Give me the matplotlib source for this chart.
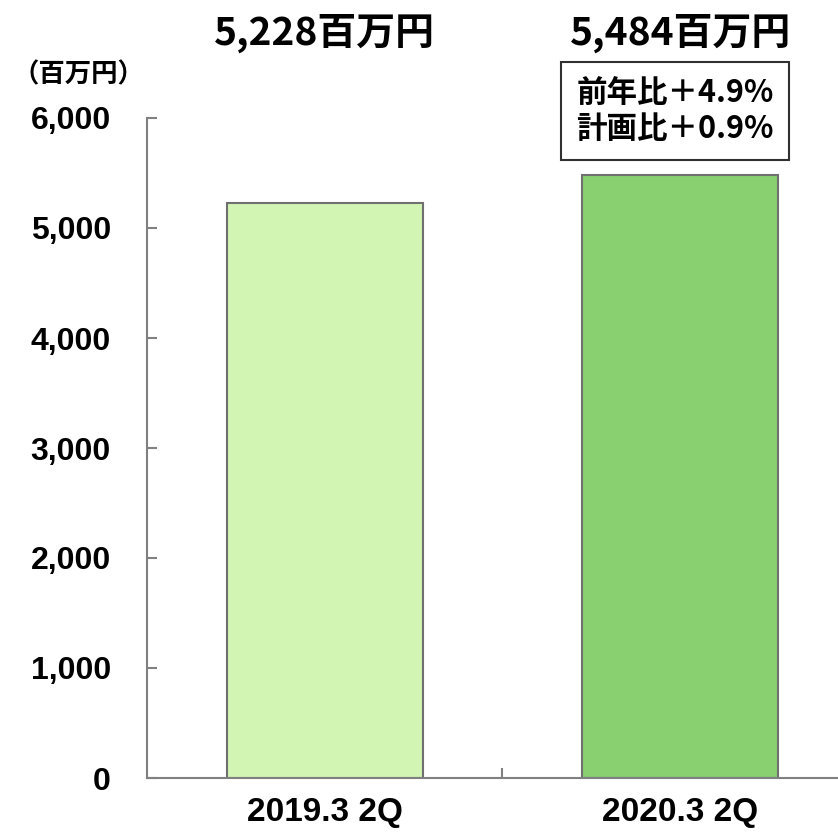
import matplotlib.pyplot as plt
from matplotlib.ticker import FuncFormatter

# data
categories = ["2019.3 2Q", "2020.3 2Q"]
values = [5228, 5484]
value_labels = ["5,228百万円", "5,484百万円"]
bar_colors = ["#D2F5B4", "#88D070"]
note_text = "前年比＋4.9%\n計画比＋0.9%"
unit_label = "（百万円）"

JP = ["Noto Sans CJK JP", "DejaVu Sans"]
NUM = ["Liberation Sans", "DejaVu Sans"]
NARROW = ["Liberation Sans Narrow", "Liberation Sans", "DejaVu Sans"]

fig = plt.figure(figsize=(8.38, 8.33), dpi=100)
ax = fig.add_axes([147 / 838, 1 - 778 / 833, 1 - 147 / 838, (778 - 118) / 833])

x = list(range(len(categories)))
ax.bar(x, values, width=0.55, color=bar_colors, edgecolor="#707070", linewidth=1.5, zorder=2)

ax.set_ylim(0, 6000)
ax.set_xlim(-0.5, 1.5 - 20 / 356)
ax.set_yticks(range(0, 6001, 1000))
ax.yaxis.set_major_formatter(FuncFormatter(lambda v, p: f"{int(v):,}"))
ax.tick_params(axis="y", direction="in", length=7, width=1.5, color="#808080", pad=26)
for lab in ax.get_yticklabels():
    lab.set_fontfamily(NUM)
    lab.set_fontweight("bold")
    lab.set_fontsize(23)

ax.set_xticks(x)
ax.set_xticklabels(categories, fontfamily=NARROW, fontweight="bold", fontsize=24)
ax.tick_params(axis="x", length=0, pad=14)
ax.set_xticks([0.5], minor=True)
ax.tick_params(axis="x", which="minor", direction="in", length=7, width=1.5, color="#808080")

for side in ("top", "right"):
    ax.spines[side].set_visible(False)
for side in ("left", "bottom"):
    ax.spines[side].set_color("#808080")
    ax.spines[side].set_linewidth(1.5)

# value labels above the plot
for xi, lab in zip(x, value_labels):
    ax.annotate(lab, xy=(xi, 1.0), xycoords=("data", "figure fraction"),
                xytext=(0, -33), textcoords="offset pixels",
                ha="center", va="center", fontsize=28, fontweight="bold", fontfamily=JP)

# comparison box
ax.text(1.0 - 5 / 356, 6000 + 7 / 110 * 1000, note_text, ha="center", va="center",
        fontsize=22, fontweight="bold", fontfamily=JP, linespacing=1.15,
        bbox=dict(boxstyle="square,pad=0.5", facecolor="white", edgecolor="#303030", linewidth=1.5),
        zorder=3, clip_on=False)

fig.text(12 / 838, 1 - 75 / 833, unit_label, ha="left", va="center",
         fontsize=19, fontweight="bold", fontfamily=JP)

fig.savefig("out.png", dpi=100)
